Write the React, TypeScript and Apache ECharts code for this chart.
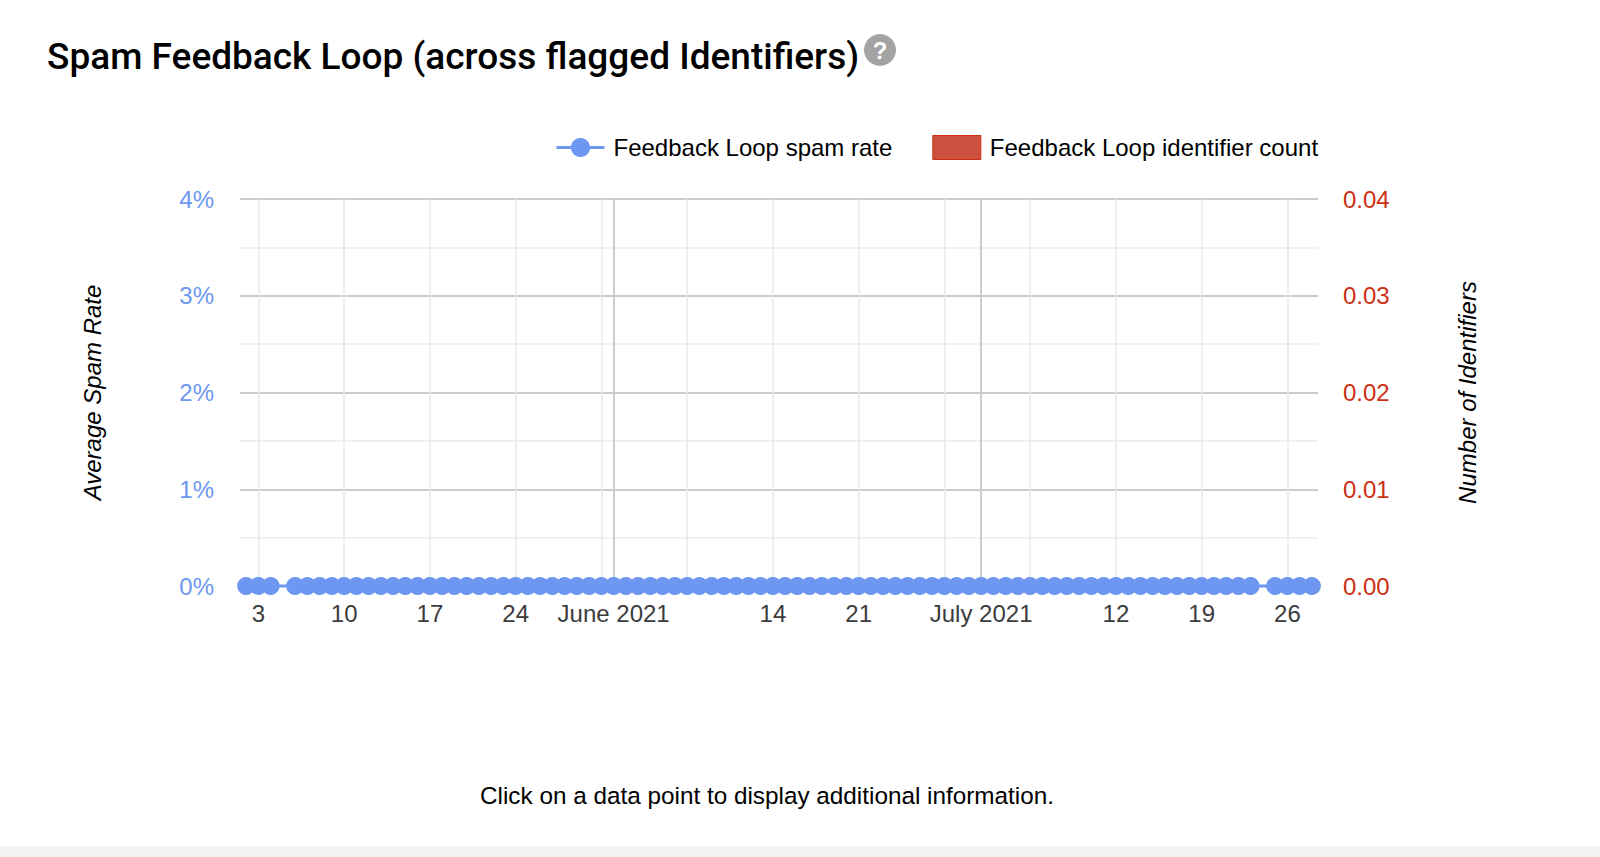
import React, { useEffect, useRef } from "react";
import * as echarts from "echarts";

const titleText = "Spam Feedback Loop (across flagged Identifiers)";
const footerText = "Click on a data point to display additional information.";
const rateName = "Feedback Loop spam rate";
const countName = "Feedback Loop identifier count";

const dates = [
  "2021-05-02","2021-05-03","2021-05-04","2021-05-05","2021-05-06","2021-05-07","2021-05-08","2021-05-09","2021-05-10","2021-05-11",
  "2021-05-12","2021-05-13","2021-05-14","2021-05-15","2021-05-16","2021-05-17","2021-05-18","2021-05-19","2021-05-20","2021-05-21",
  "2021-05-22","2021-05-23","2021-05-24","2021-05-25","2021-05-26","2021-05-27","2021-05-28","2021-05-29","2021-05-30","2021-05-31",
  "2021-06-01","2021-06-02","2021-06-03","2021-06-04","2021-06-05","2021-06-06","2021-06-07","2021-06-08","2021-06-09","2021-06-10",
  "2021-06-11","2021-06-12","2021-06-13","2021-06-14","2021-06-15","2021-06-16","2021-06-17","2021-06-18","2021-06-19","2021-06-20",
  "2021-06-21","2021-06-22","2021-06-23","2021-06-24","2021-06-25","2021-06-26","2021-06-27","2021-06-28","2021-06-29","2021-06-30",
  "2021-07-01","2021-07-02","2021-07-03","2021-07-04","2021-07-05","2021-07-06","2021-07-07","2021-07-08","2021-07-09","2021-07-10",
  "2021-07-11","2021-07-12","2021-07-13","2021-07-14","2021-07-15","2021-07-16","2021-07-17","2021-07-18","2021-07-19","2021-07-20",
  "2021-07-21","2021-07-22","2021-07-23","2021-07-24","2021-07-25","2021-07-26","2021-07-27","2021-07-28",
];

const spamRate = [
  0,0,0,null,0,0,0,0,0,0,
  0,0,0,0,0,0,0,0,0,0,
  0,0,0,0,0,0,0,0,0,0,
  0,0,0,0,0,0,0,0,0,0,
  0,0,0,0,0,0,0,0,0,0,
  0,0,0,0,0,0,0,0,0,0,
  0,0,0,0,0,0,0,0,0,0,
  0,0,0,0,0,0,0,0,0,0,
  0,0,0,null,0,0,0,0,
];

const identifierCount = [
  0,0,0,null,0,0,0,0,0,0,
  0,0,0,0,0,0,0,0,0,0,
  0,0,0,0,0,0,0,0,0,0,
  0,0,0,0,0,0,0,0,0,0,
  0,0,0,0,0,0,0,0,0,0,
  0,0,0,0,0,0,0,0,0,0,
  0,0,0,0,0,0,0,0,0,0,
  0,0,0,0,0,0,0,0,0,0,
  0,0,0,null,0,0,0,0,
];

const weekLines = [
  "2021-05-03","2021-05-10","2021-05-17","2021-05-24","2021-05-31","2021-06-07","2021-06-14",
  "2021-06-21","2021-06-28","2021-07-05","2021-07-12","2021-07-19","2021-07-26",
];
const monthLines = ["2021-06-01", "2021-07-01"];
const xLabelDates = [
  "2021-05-03","2021-05-10","2021-05-17","2021-05-24","2021-06-01","2021-06-14",
  "2021-06-21","2021-07-01","2021-07-12","2021-07-19","2021-07-26",
];
const xLabelTexts = ["3","10","17","24","June 2021","14","21","July 2021","12","19","26"];
const xRange = ["2021-05-01T12:00:00Z", "2021-07-28T12:00:00Z"];

const BLUE = "#6d97f0";
const RED = "#cc2f14";
const SANS = "'Liberation Sans', Arial, sans-serif";

const ts = (d: string) => Date.parse(d.length === 10 ? d + "T00:00:00Z" : d);

export default function App() {
  const ref = useRef<HTMLDivElement>(null);
  useEffect(() => {
    const chart = echarts.init(ref.current!, undefined, { renderer: "svg" });
    const labelMap = new Map(xLabelDates.map((d, i) => [ts(d), xLabelTexts[i]]));
    chart.setOption({
      animation: false,
      backgroundColor: "#ffffff",
      title: {
        text: titleText,
        left: 42,
        top: 33,
        textStyle: { fontFamily: "Roboto, sans-serif", fontSize: 37, fontWeight: 500, color: "#000000" },
      },
      legend: {
        left: 550,
        top: 130,
        itemWidth: 48,
        itemHeight: 24,
        itemGap: 40,
        lineStyle: { width: 3 },
        textStyle: { fontFamily: SANS, fontSize: 24, color: "#000000", padding: [0, 0, 0, 4] },
        data: [
          { name: rateName },
          { name: countName, icon: "rect", itemStyle: { color: "#cb5040", borderColor: "#cc2f14", borderWidth: 1 } },
        ],
      },
      grid: { left: 240, right: 282, top: 199, height: 387 },
      xAxis: {
        type: "value",
        min: ts(xRange[0]),
        max: ts(xRange[1]),
        axisLine: { show: false },
        axisTick: { show: false, customValues: weekLines.map(ts) },
        splitLine: { show: true, lineStyle: { color: "#e8e8e8", width: 1.5 } },
        minorSplitLine: { show: false },
        axisLabel: {
          customValues: xLabelDates.map(ts),
          formatter: (v: number) => labelMap.get(v) ?? "",
          margin: 15,
          hideOverlap: false,
          fontFamily: SANS,
          fontSize: 24,
          color: "#3c3c3c",
        },
      },
      yAxis: [
        {
          type: "value",
          min: 0,
          max: 4,
          interval: 1,
          name: "Average Spam Rate",
          nameLocation: "middle",
          nameRotate: 90,
          nameGap: 134,
          nameTextStyle: { fontFamily: SANS, fontStyle: "italic", fontSize: 24, color: "#000000", padding: [0, 0, 2, 0] },
          axisLine: { show: false },
          axisTick: { show: false },
          axisLabel: {
            formatter: "{value}%",
            margin: 26,
            padding: [0, 0, 2, 0],
            fontFamily: SANS,
            fontSize: 24,
            color: BLUE,
          },
          splitLine: { show: true, lineStyle: { color: "#cccccc", width: 2 } },
          minorTick: { show: false, splitNumber: 2 },
          minorSplitLine: { show: true, lineStyle: { color: "#ebebeb", width: 1.5 } },
        },
        {
          type: "value",
          min: 0,
          max: 0.04,
          interval: 0.01,
          position: "right",
          name: "Number of Identifiers",
          nameLocation: "middle",
          nameRotate: 90,
          nameGap: 137,
          nameTextStyle: { fontFamily: SANS, fontStyle: "italic", fontSize: 24, color: "#000000" },
          axisLine: { show: false },
          axisTick: { show: false },
          axisLabel: {
            formatter: (v: number) => v.toFixed(2),
            margin: 25,
            padding: [0, 0, 2, 0],
            fontFamily: SANS,
            fontSize: 24,
            color: RED,
          },
          splitLine: { show: false },
        },
      ],
      series: [
        {
          name: countName,
          type: "bar",
          yAxisIndex: 1,
          itemStyle: { color: "#cb5040", borderWidth: 0 },
          data: dates.map((d, i) => [ts(d), identifierCount[i]]),
        },
        {
          name: rateName,
          type: "line",
          yAxisIndex: 0,
          connectNulls: true,
          showSymbol: true,
          showAllSymbol: true,
          symbol: "circle",
          symbolSize: 18,
          clip: false,
          z: 5,
          lineStyle: { color: BLUE, width: 3 },
          itemStyle: { color: BLUE },
          data: dates.map((d, i) => [ts(d), spamRate[i]]),
          markLine: {
            silent: true,
            symbol: "none",
            label: { show: false },
            lineStyle: { color: "#cccccc", width: 2, type: "solid" },
            data: monthLines.map((d) => ({ xAxis: ts(d) })),
            z: 1,
          },
        },
      ],
      graphic: [
        {
          type: "circle",
          shape: { cx: 880, cy: 50, r: 16 },
          style: { fill: "#a3a3a3" },
        },
        {
          type: "text",
          x: 880,
          y: 50,
          style: {
            text: "?",
            fill: "#ffffff",
            font: "bold 24px 'Liberation Sans', Arial, sans-serif",
            align: "center",
            verticalAlign: "middle",
          },
        },
        {
          type: "text",
          x: 767,
          y: 795,
          style: {
            text: footerText,
            fill: "#000000",
            font: "24.3px 'Liberation Sans', Arial, sans-serif",
            align: "center",
            verticalAlign: "middle",
          },
        },
        {
          type: "rect",
          shape: { x: 0, y: 846, width: 1600, height: 11 },
          style: { fill: "#f3f3f3" },
        },
      ],
    });
    return () => chart.dispose();
  }, []);
  return (
    <div
      ref={ref}
      style={{ position: "fixed", left: 0, top: 0, width: 1600, height: 857 }}
    />
  );
}
